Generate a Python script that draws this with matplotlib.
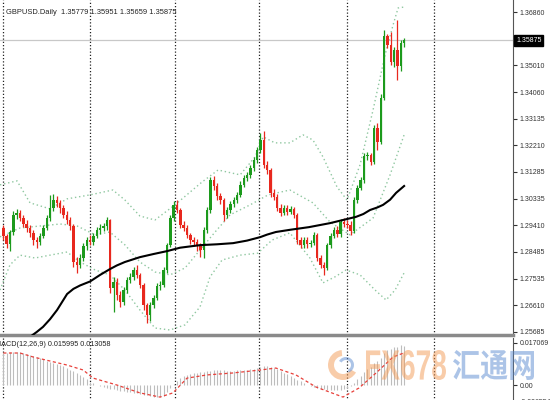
import matplotlib
matplotlib.use("Agg")
import matplotlib.pyplot as plt
from matplotlib.patches import PathPatch, Wedge
from matplotlib.textpath import TextPath
from matplotlib.font_manager import FontProperties
from matplotlib.transforms import Affine2D, IdentityTransform, blended_transform_factory

# ---- data (GBPUSD daily) ----
closes = [1.2903, 1.2875, 1.2917, 1.2977, 1.2984, 1.2966, 1.2945, 1.2931, 1.2914, 1.2889,
          1.2882, 1.2903, 1.2931, 1.2966, 1.3001, 1.3029, 1.3019, 1.3001, 1.2977, 1.2959,
          1.2938, 1.2812, 1.2802, 1.2826, 1.2868, 1.2889, 1.2882, 1.2903, 1.2924, 1.2931,
          1.2938, 1.2959, 1.2721, 1.2742, 1.2697, 1.2672, 1.2714, 1.2749, 1.2760, 1.2784,
          1.2767, 1.2732, 1.2662, 1.2627, 1.2662, 1.2686, 1.2728, 1.2732, 1.2784, 1.2872,
          1.2966, 1.3012, 1.2994, 1.2942, 1.2931, 1.2907, 1.2889, 1.2882, 1.2868, 1.2854,
          1.2924, 1.2994, 1.3099, 1.3078, 1.3043, 1.3029, 1.2977, 1.2994, 1.3015, 1.3029,
          1.3047, 1.3082, 1.3106, 1.3117, 1.3141, 1.3169, 1.3204, 1.3239, 1.3152, 1.3134,
          1.3054, 1.3040, 1.3001, 1.2984, 1.3001, 1.2987, 1.2998, 1.2977, 1.2889, 1.2872,
          1.2889, 1.2875, 1.2879, 1.2907, 1.2826, 1.2802, 1.2791, 1.2872, 1.2903, 1.2924,
          1.2910, 1.2952, 1.2945, 1.2942, 1.2921, 1.3029, 1.3071, 1.3099, 1.3183, 1.3188,
          1.3162, 1.3281, 1.3232, 1.3386, 1.3603, 1.3572, 1.3512, 1.3554, 1.3498, 1.35779,
          1.35875]
highs = [1.2942, 1.2910, 1.2925, 1.2990, 1.2998, 1.2995, 1.2975, 1.2958, 1.2940, 1.2925,
         1.2900, 1.2912, 1.2940, 1.2978, 1.3045, 1.3050, 1.3042, 1.3030, 1.3012, 1.2990,
         1.2970, 1.2945, 1.2830, 1.2840, 1.2880, 1.2900, 1.2905, 1.2915, 1.2935, 1.2945,
         1.2950, 1.2968, 1.2962, 1.2760, 1.2755, 1.2710, 1.2725, 1.2760, 1.2775, 1.2795,
         1.2800, 1.2775, 1.2740, 1.2670, 1.2672, 1.2695, 1.2738, 1.2745, 1.2795, 1.2880,
         1.2975, 1.3025, 1.3030, 1.3002, 1.2955, 1.2940, 1.2915, 1.2898, 1.2892, 1.2880,
         1.2935, 1.3005, 1.3110, 1.3112, 1.3088, 1.3055, 1.3035, 1.3005, 1.3025, 1.3040,
         1.3058, 1.3095, 1.3118, 1.3128, 1.3150, 1.3180, 1.3215, 1.3265, 1.3272, 1.3165,
         1.3140, 1.3068, 1.3050, 1.3015, 1.3012, 1.3010, 1.3008, 1.3005, 1.2985, 1.2900,
         1.2900, 1.2898, 1.2890, 1.2918, 1.2912, 1.2835, 1.2812, 1.2880, 1.2912, 1.2935,
         1.2938, 1.2962, 1.2965, 1.2958, 1.2955, 1.3040, 1.3082, 1.3110, 1.3192, 1.3198,
         1.3195, 1.3290, 1.3300, 1.3400, 1.3624, 1.3610, 1.3617, 1.3565, 1.3659, 1.3590,
         1.35951]
lows = [1.2889, 1.2860, 1.2852, 1.2905, 1.2962, 1.2955, 1.2935, 1.2918, 1.2898, 1.2870,
        1.2862, 1.2870, 1.2895, 1.2925, 1.2955, 1.2990, 1.3005, 1.2985, 1.2965, 1.2945,
        1.2925, 1.2795, 1.2775, 1.2790, 1.2815, 1.2855, 1.2870, 1.2872, 1.2895, 1.2910,
        1.2920, 1.2925, 1.2705, 1.2637, 1.2680, 1.2655, 1.2660, 1.2705, 1.2740, 1.2750,
        1.2755, 1.2720, 1.2645, 1.2598, 1.2605, 1.2650, 1.2678, 1.2715, 1.2725, 1.2775,
        1.2865, 1.2955, 1.2985, 1.2930, 1.2920, 1.2895, 1.2875, 1.2868, 1.2850, 1.2830,
        1.2825, 1.2915, 1.2985, 1.3065, 1.3030, 1.3015, 1.2955, 1.2965, 1.2985, 1.3005,
        1.3020, 1.3040, 1.3075, 1.3095, 1.3105, 1.3130, 1.3160, 1.3195, 1.3140, 1.3120,
        1.3040, 1.3030, 1.2990, 1.2972, 1.2975, 1.2975, 1.2980, 1.2965, 1.2875, 1.2860,
        1.2860, 1.2862, 1.2865, 1.2870, 1.2815, 1.2790, 1.2768, 1.2785, 1.2860, 1.2895,
        1.2898, 1.2900, 1.2935, 1.2930, 1.2905, 1.2915, 1.3020, 1.3065, 1.3090, 1.3170,
        1.3150, 1.3155, 1.3205, 1.3225, 1.3380, 1.3560, 1.3500, 1.3495, 1.3449, 1.3480,
        1.35659]
first_open = 1.2931
opens = [first_open] + closes[:-1]

# moving average (black) and Bollinger bands (dotted), read at bar positions
ma_x = [6.5, 8, 10, 11.9, 14, 16.1, 17.6, 19.1, 21, 23, 26, 29, 31.9, 34, 36.4, 40.9,
        45, 49, 52.9, 58.9, 64, 68.8, 73, 76.9, 79, 81.6, 86, 91.5, 97.8, 101.7, 105.6,
        107.8, 109.8, 112, 113.7, 115.8, 117.6, 120]
ma_y = [1.2521, 1.2550, 1.2567, 1.2585, 1.2612, 1.2644, 1.2672, 1.2700, 1.2718, 1.2730,
        1.2744, 1.2767, 1.2787, 1.2800, 1.2812, 1.2829, 1.2840, 1.2850, 1.2862, 1.2871,
        1.2874, 1.2878, 1.2887, 1.2899, 1.2908, 1.2917, 1.2925, 1.2934, 1.2948, 1.2959,
        1.2970, 1.2980, 1.2994, 1.3003, 1.3012, 1.3030, 1.3054, 1.3078]

bb_up_x = [-1, 4.1, 8, 14, 19.1, 26, 32.8, 36.4, 40.9, 45.4, 51.4, 59.5, 64.3, 70.9, 75.4,
           77.8, 81.3, 85.8, 89.7, 92.7, 95.7, 99.9, 102.9, 106.8, 110.7, 114.3, 116.7,
           118.2, 120.3]
bb_up_y = [1.3082, 1.3096, 1.3019, 1.2998, 1.3033, 1.3047, 1.3064, 1.3029, 1.2973, 1.2959,
           1.3012, 1.3092, 1.3134, 1.3117, 1.3180, 1.3250, 1.3229, 1.3229, 1.3257, 1.3239,
           1.3180, 1.3075, 1.3029, 1.3152, 1.3344, 1.3537, 1.3642, 1.3701, 1.3705]
bb_mid_x = [-1, 5, 11, 17, 22.1, 27.5, 31.9, 36.4, 40.9, 45.4, 49.9, 54.4, 58.9, 63.4,
            67.9, 73.9, 79.3, 85.8, 92.7, 97.8, 103.8, 110.7, 115.8, 120]
bb_mid_y = [1.2900, 1.2931, 1.2938, 1.2945, 1.2938, 1.2907, 1.2917, 1.2872, 1.2812, 1.2777,
            1.2767, 1.2791, 1.2854, 1.2917, 1.2977, 1.3012, 1.3047, 1.3064, 1.3019, 1.2952,
            1.2907, 1.2966, 1.3117, 1.3257]
bb_low_x = [-1, 2, 5, 9.5, 14, 19.1, 23, 27.5, 31.9, 36.4, 40.9, 45.4, 49.9, 54.4, 58.9,
            61.9, 65.5, 70.9, 76.2, 80.5, 85.8, 91.8, 95.7, 99.3, 102.6, 106.8, 111.3,
            114.6, 117.3, 120]
bb_low_y = [1.2714, 1.2802, 1.2836, 1.2826, 1.2836, 1.2847, 1.2812, 1.2784, 1.2767, 1.2714,
            1.2644, 1.2581, 1.2574, 1.2592, 1.2655, 1.2760, 1.2819, 1.2836, 1.2843, 1.2889,
            1.2914, 1.2826, 1.2739, 1.2760, 1.2784, 1.2767, 1.2714, 1.2679, 1.2714, 1.2774]

# MACD(12,26,9): histogram per bar, signal line
macd_main = [0.0130, 0.0132, 0.0134, 0.0135, 0.0136, 0.0135, 0.0131, 0.0127, 0.0122, 0.0118,
             0.0114, 0.0110, 0.0105, 0.0099, 0.0093, 0.0089, 0.0085, 0.0081, 0.0076, 0.0070,
             0.0063, 0.0056, 0.0048, 0.0040, 0.0032, 0.0024, 0.0014, 0.0007, 0.0002, -0.0004,
             -0.0008, -0.0012, -0.0016, -0.0018, -0.0020, -0.0023, -0.0025, -0.0027, -0.0029, -0.0031,
             -0.0034, -0.0036, -0.0039, -0.0042, -0.0045, -0.0047, -0.0049, -0.0049, -0.0044, -0.0030,
             -0.0012, 0.0005, 0.0018, 0.0028, 0.0036, 0.0042, 0.0046, 0.0048, 0.0050, 0.0052,
             0.0054, 0.0056, 0.0058, 0.0059, 0.0060, 0.0060, 0.0059, 0.0058, 0.0058, 0.0058,
             0.0059, 0.0060, 0.0061, 0.0062, 0.0064, 0.0066, 0.0070, 0.0075, 0.0078, 0.0077,
             0.0074, 0.0070, 0.0064, 0.0057, 0.0050, 0.0044, 0.0037, 0.0030, 0.0022, 0.0015,
             0.0008, 0.0002, -0.0004, -0.0008, -0.0012, -0.0015, -0.0018, -0.0019, -0.0020, -0.0021,
             -0.0021, -0.0020, -0.0018, -0.0012, -0.0005, 0.0010, 0.0025, 0.0038, 0.0052, 0.0064,
             0.0073, 0.0088, 0.0096, 0.0110, 0.0130, 0.0142, 0.0148, 0.0154, 0.0156, 0.0161,
             0.015995]
sig_x = [0, 5, 8.9, 19.1, 23.9, 26.9, 34, 40.9, 46.9, 50.8, 55, 61, 68.8, 76.9, 81.6,
         87.6, 93.6, 101.7, 106.5, 111.6, 116.7, 120]
sig_y = [0.0130, 0.0130, 0.0114, 0.0081, 0.0061, 0.0028, 0.0000, -0.0032, -0.0049, -0.0032,
         0.0028, 0.0041, 0.0049, 0.0061, 0.0069, 0.0041, -0.0008, -0.0049, -0.0012, 0.0049,
         0.0114, 0.013058]

price_ticks = [1.36860, 1.35010, 1.34060, 1.33135, 1.32210, 1.31285, 1.30335,
               1.29410, 1.28485, 1.27535, 1.26610, 1.25685]
macd_ticks = [0.017069, 0.0, -0.006554]
macd_labels = ["0.017069", "0.00", "-0.006554"]
last_price = 1.35875
grid_bars = [0, 26, 51.5, 76.5, 103, 129]

# ---- figure ----
W, H = 552, 400
plt.rcParams['font.family'] = ['Liberation Sans', 'DejaVu Sans']
fig = plt.figure(figsize=(W / 100, H / 100), dpi=100)
ax = fig.add_axes([0, 1 - 335 / H, 513 / W, 335 / H])
mx = fig.add_axes([0, -2 / H, 513 / W, 64 / H])

green, red = '#1c9a1c', '#e8281e'
n = len(closes)
xs = list(range(n))
cols = [green if c >= o else red for o, c in zip(opens, closes)]
ax.vlines(xs, lows, highs, colors=cols, lw=0.9, zorder=3)
bottoms = [min(o, c) for o, c in zip(opens, closes)]
heights = [max(abs(c - o), 0.00025) for o, c in zip(opens, closes)]
ax.bar(xs, heights, bottom=bottoms, width=0.72, color=cols, lw=0, zorder=4)

band_style = dict(color='#8fc7a0', lw=1.0, ls=(0, (1, 2)), zorder=2)
ax.plot(bb_up_x, bb_up_y, **band_style)
ax.plot(bb_mid_x, bb_mid_y, **band_style)
ax.plot(bb_low_x, bb_low_y, **band_style)
ax.plot(ma_x, ma_y, color='black', lw=1.5, zorder=5)

ax.axhline(last_price, color='#c8c8c8', lw=0.9, zorder=1)
for g in grid_bars:
    ax.axvline(g, color='#222222', lw=0.9, ls=(0, (1, 1.6)), zorder=1)
    mx.axvline(g, color='#222222', lw=0.9, ls=(0, (1, 1.6)), zorder=1)

ax.set_xlim(-0.99, 152.6)
ax.set_ylim(1.25565, 1.3729)
ax.yaxis.tick_right()
ax.set_yticks(price_ticks)
ax.set_yticklabels([f"{p:.5f}" for p in price_ticks])
ax.tick_params(axis='y', length=3, width=0.8, labelsize=5, pad=2, colors='#333333')
ax.tick_params(axis='x', bottom=False, labelbottom=False)
for s in ['top', 'left']:
    ax.spines[s].set_visible(False)
ax.spines['right'].set_color('#555555')
ax.spines['bottom'].set_color('#8a8a8a')
ax.spines['bottom'].set_linewidth(2.5)

tr = blended_transform_factory(ax.transAxes, ax.transData)
ax.text(1.006, last_price, "1.35875", transform=tr, fontsize=5, color='white',
        va='center', ha='left', bbox=dict(boxstyle='square,pad=0.25', fc='black', ec='black'))

# MACD panel
mx.vlines(xs, 0, macd_main, colors='#bdbdbd', lw=0.8, zorder=2)
mx.plot(sig_x, sig_y, color='#e8403a', lw=0.9, ls=(0, (2.5, 2)), zorder=3)
mx.set_xlim(-0.99, 152.6)
mx.set_ylim(-0.0069, 0.0191)
mx.yaxis.tick_right()
mx.set_yticks(macd_ticks)
mx.set_yticklabels(macd_labels)
mx.tick_params(axis='y', length=3, width=0.8, labelsize=5, pad=2, colors='#333333')
mx.tick_params(axis='x', bottom=False, labelbottom=False)
for s in ['top', 'left', 'bottom']:
    mx.spines[s].set_visible(False)
mx.spines['right'].set_color('#555555')

fig.text(6 / W, 1 - 12 / H, "GBPUSD.Daily  1.35779 1.35951 1.35659 1.35875",
         fontsize=5.4, va='center', ha='left', color='#222222')
fig.text(-5 / W, 1 - 345 / H, "MACD(12,26,9) 0.015995 0.013058",
         fontsize=5.2, va='center', ha='left', color='#222222')


# watermark: FX678 汇通网
def stretched_text(s, family, x0, y0, w, h, color):
    tp = TextPath((0, 0), s, size=10, prop=FontProperties(family=family, weight='bold'))
    bb = tp.get_extents()
    t = Affine2D().translate(-bb.x0, -bb.y0).scale(w / bb.width, h / bb.height).translate(x0, H - y0 - h)
    fig.add_artist(PathPatch(tp, transform=t, fc=color, ec='none', alpha=0.5, zorder=10))


stretched_text("FX678", 'Liberation Sans', 366, 350, 80, 30, '#f39a55')
stretched_text("汇通网", 'Noto Sans CJK SC', 453, 350, 81, 30, '#5a8ad0')
fig.add_artist(Wedge((343, H - 365), 15, 95, 330, width=6, transform=IdentityTransform(),
                     fc='#f39a55', ec='none', alpha=0.5, zorder=10))
fig.add_artist(Wedge((346, H - 365), 8, -70, 150, width=3, transform=IdentityTransform(),
                     fc='#5a8ad0', ec='none', alpha=0.5, zorder=10))

fig.savefig("out.png", dpi=100)
